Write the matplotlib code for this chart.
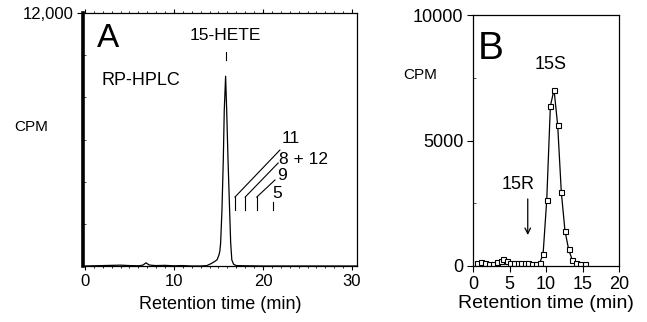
import matplotlib
matplotlib.use('Agg')
import matplotlib.pyplot as plt
from matplotlib.ticker import MultipleLocator, FixedLocator

plt.rcParams['font.family'] = ['Liberation Sans', 'DejaVu Sans']

# Panel A: RP-HPLC radio trace
a_time = [0.0, 1.0, 2.0, 3.0, 4.0, 5.0, 6.0, 6.5, 6.86, 7.2, 7.6, 8.0, 9.0, 10.0,
          11.0, 12.0, 13.0, 13.7, 14.2, 14.6, 14.85, 15.05, 15.15, 15.24, 15.39,
          15.54, 15.65, 15.8, 15.92, 16.07, 16.25, 16.37, 16.5, 16.7, 17.0, 18.0,
          20.0, 22.0, 25.0, 28.0, 30.5]
a_cpm = [0, 10, 20, 30, 40, 20, 10, 40, 150, 50, 30, 20, 30, 10,
         20, 0, 0, 20, 120, 220, 300, 520, 700, 1090, 2650,
         5030, 7400, 9000, 7400, 5030, 2650, 1090, 285, 80, 20, 10,
         0, 0, 0, 0, 0]
a_xticks = [0, 10, 20, 30]
a_ytick_labels = ['12,000']
iso_labels = ['11', '8 + 12', '9', '5']
iso_mark_x = [16.85, 18.0, 19.3, 21.1]
iso_mark_top = [3270, 3270, 3270, 3040]
iso_mark_bottom = 2650
iso_diag_end_x = [21.9, 21.7, 21.35, None]
iso_diag_end_y = [5500, 4885, 4080, None]
iso_text_x = [22.1, 21.75, 21.55, 21.0]
iso_text_y = [6070, 5030, 4316, 3460]

# Panel B: chiral analysis
b_time = [0.5, 1.1, 1.7, 2.2, 2.75, 3.3, 3.8, 4.15, 4.65, 5.1, 5.6, 6.1, 6.6, 7.1,
          7.6, 8.1, 8.6, 9.15, 9.6, 10.1, 10.6, 11.1, 11.6, 12.1, 12.6, 13.1, 13.6,
          14.15, 14.7, 15.4]
b_cpm = [120, 160, 130, 90, 70, 150, 200, 280, 190, 130, 120, 120, 120, 120,
         120, 90, 90, 130, 470, 2620, 6370, 7030, 5600, 2930, 1400, 660, 240,
         120, 90, 90]
b_xticks = [0, 5, 10, 15, 20]
b_yticks = [0, 5000, 10000]

W, H = 647, 322
fig = plt.figure(figsize=(W / 100, H / 100), dpi=100)
fig.patch.set_facecolor('white')


def rect(l, t, r, b):
    return [l / W, 1 - b / H, (r - l) / W, (b - t) / H]


# ---------------- Panel A ----------------
axA = fig.add_axes(rect(83, 13, 357, 266))
axA.plot(a_time, a_cpm, color='black', lw=0.9)
axA.set_xlim(-0.22, 30.56)
axA.set_ylim(0, 12000)
axA.spines['left'].set_linewidth(2.6)
for s in ['top', 'right', 'bottom']:
    axA.spines[s].set_linewidth(0.9)
axA.xaxis.set_major_locator(FixedLocator(a_xticks))
axA.xaxis.set_minor_locator(MultipleLocator(1))
axA.tick_params(axis='x', which='major', direction='out', length=3, width=0.8,
                labelsize=12, pad=3, top=True)
axA.tick_params(axis='x', which='minor', direction='out', length=1.5, width=0.6, top=True)
axA.yaxis.set_major_locator(FixedLocator([12000]))
axA.set_yticklabels(a_ytick_labels)
axA.yaxis.set_minor_locator(MultipleLocator(2000))
axA.tick_params(axis='y', which='major', direction='out', length=4, width=0.8,
                labelsize=12, pad=3)
axA.tick_params(axis='y', which='minor', direction='in', length=2, width=0.5)
axA.set_xlabel('Retention time (min)', fontsize=13, labelpad=5)

axA.text(1.3, 10800, 'A', fontsize=24, ha='left', va='center')
axA.text(1.9, 8820, 'RP-HPLC', fontsize=13, ha='left', va='center')
axA.text(15.8, 10950, '15-HETE', fontsize=12.5, ha='center', va='center')
axA.plot([15.8, 15.8], [9780, 10150], color='black', lw=0.8)

for i, lab in enumerate(iso_labels):
    x0 = iso_mark_x[i]
    axA.plot([x0, x0], [iso_mark_bottom, iso_mark_top[i]], color='black', lw=0.8)
    if iso_diag_end_x[i] is not None:
        axA.plot([x0, iso_diag_end_x[i]], [iso_mark_top[i], iso_diag_end_y[i]],
                 color='black', lw=0.8)
    axA.text(iso_text_x[i], iso_text_y[i], lab, fontsize=12.5, ha='left', va='center')

fig.text(31 / W, 1 - 127 / H, 'CPM', fontsize=11, ha='center', va='center')

# ---------------- Panel B ----------------
axB = fig.add_axes(rect(473, 15, 619, 266))
axB.plot(b_time, b_cpm, color='black', lw=0.9, marker='s', markersize=3.6,
         markerfacecolor='white', markeredgecolor='black', markeredgewidth=0.8)
axB.set_xlim(0, 20)
axB.set_ylim(0, 10000)
for s in axB.spines.values():
    s.set_linewidth(0.9)
axB.xaxis.set_major_locator(FixedLocator(b_xticks))
axB.yaxis.set_major_locator(FixedLocator(b_yticks))
axB.yaxis.set_minor_locator(MultipleLocator(2500))
axB.tick_params(axis='both', which='major', direction='out', length=4, width=0.8,
                labelsize=13, pad=3)
axB.tick_params(axis='y', which='minor', direction='in', length=2, width=0.5)
axB.set_xlabel('Retention time (min)', fontsize=14, labelpad=2)

axB.text(0.6, 8650, 'B', fontsize=28, ha='left', va='center')
axB.text(10.7, 8010, '15S', fontsize=13, ha='center', va='center')
axB.text(6.2, 3230, '15R', fontsize=13, ha='center', va='center')
axB.annotate('', xy=(7.5, 1235), xytext=(7.5, 2670),
             arrowprops=dict(arrowstyle='->', lw=0.9, color='black',
                             mutation_scale=10, shrinkA=0, shrinkB=0))

fig.text(420 / W, 1 - 75 / H, 'CPM', fontsize=11, ha='center', va='center')

fig.savefig('out.png', dpi=100, facecolor='white')
